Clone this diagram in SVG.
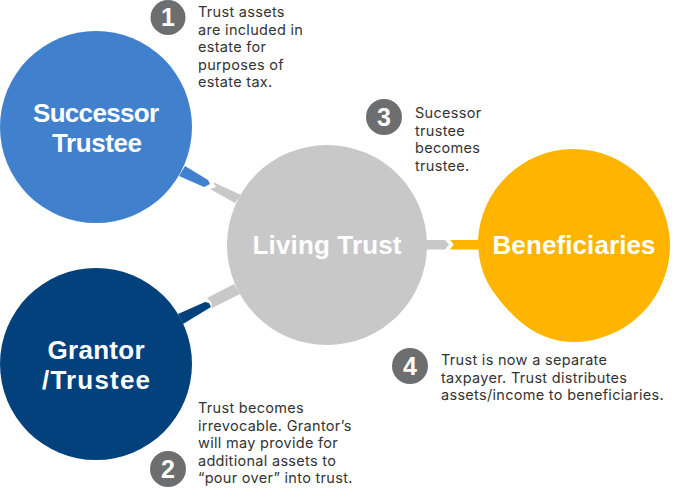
<svg xmlns="http://www.w3.org/2000/svg" width="676" height="500" viewBox="0 0 676 500">
<style>
.t{font-family:"Inter","Liberation Sans",Arial,sans-serif;font-size:14.5px;letter-spacing:.3px;fill:#333}
.n{font-family:"Liberation Sans",Arial,sans-serif;font-size:26px;font-weight:700;fill:#fff;text-anchor:middle}
.b{fill:#6d6e70}
.d{font-family:"Liberation Sans",Arial,sans-serif;font-size:25px;font-weight:700;fill:#fff;text-anchor:middle}
</style>
<rect width="676" height="500" fill="#fff"/>
<g id="connectors">
<polygon points="185,166 208,180 210,184 204,187 179,176" fill="#4080cd"/>
<polygon points="213,182 241,195 235,203 210,189 216,187" fill="#c8c8c8"/>
<polygon points="234,284 240,294 212,308 211,302 207,298" fill="#c8c8c8"/>
<polygon points="205,302 209,303 211,307 183,324 178,314" fill="#03417c"/>
<polygon points="420,240 445,240 449,244.5 445,249.5 420,249.5" fill="#c8c8c8"/>
<polygon points="450,240 490,240 490,249.5 450,249.5 453.7,244.5" fill="#ffb400"/>
</g>
<g id="successor-trustee">
<circle cx="96" cy="127" r="96" fill="#4080cd"/>
<text class="n" x="96" y="122" textLength="126" lengthAdjust="spacing">Successor</text>
<text class="n" x="97" y="152" textLength="90" lengthAdjust="spacing">Trustee</text>
</g>
<g id="grantor-trustee">
<circle cx="96" cy="364" r="96" fill="#03417c"/>
<text class="n" x="96" y="359" textLength="97" lengthAdjust="spacing">Grantor</text>
<text class="n" x="96" y="389" textLength="108" lengthAdjust="spacing">/Trustee</text>
</g>
<g id="living-trust">
<circle cx="327" cy="245" r="100" fill="#c8c8c8"/>
<text class="n" x="327" y="254" textLength="149" lengthAdjust="spacing">Living Trust</text>
</g>
<g id="beneficiaries">
<path d="M573,149A97,97 0 0 1 670,245A97,97 0 0 1 573,342C535,342 510,315 492,290C482,275 478,258 478,240A96,96 0 0 1 573,149Z" fill="#ffb400"/>
<text class="n" x="574" y="254" textLength="163" lengthAdjust="spacing">Beneficiaries</text>
</g>
<g id="note-1">
<circle class="b" cx="168" cy="17.5" r="17.5"/>
<text class="d" x="168" y="26">1</text>
<text class="t"><tspan x="198" y="17">Trust assets</tspan><tspan x="198" y="34.5">are included in</tspan><tspan x="198" y="52">estate for</tspan><tspan x="198" y="69.5">purposes of</tspan><tspan x="198" y="87">estate tax.</tspan></text>
</g>
<g id="note-2">
<circle class="b" cx="168" cy="469" r="18"/>
<text class="d" x="168" y="478">2</text>
<text class="t"><tspan x="198" y="413">Trust becomes</tspan><tspan x="198" y="430.5">irrevocable. Grantor’s</tspan><tspan x="198" y="448">will may provide for</tspan><tspan x="198" y="465.5">additional assets to</tspan><tspan x="198" y="483">“pour over” into trust.</tspan></text>
</g>
<g id="note-3">
<circle class="b" cx="384" cy="117" r="18"/>
<text class="d" x="384" y="126">3</text>
<text class="t"><tspan x="415" y="118">Sucessor</tspan><tspan x="415" y="135.5">trustee</tspan><tspan x="415" y="153">becomes</tspan><tspan x="415" y="170.5">trustee.</tspan></text>
</g>
<g id="note-4">
<circle class="b" cx="410" cy="366" r="18"/>
<text class="d" x="410" y="375">4</text>
<text class="t"><tspan x="441" y="365">Trust is now a separate</tspan><tspan x="441" y="382.5">taxpayer. Trust distributes</tspan><tspan x="441" y="400">assets/income to beneficiaries.</tspan></text>
</g>
</svg>
